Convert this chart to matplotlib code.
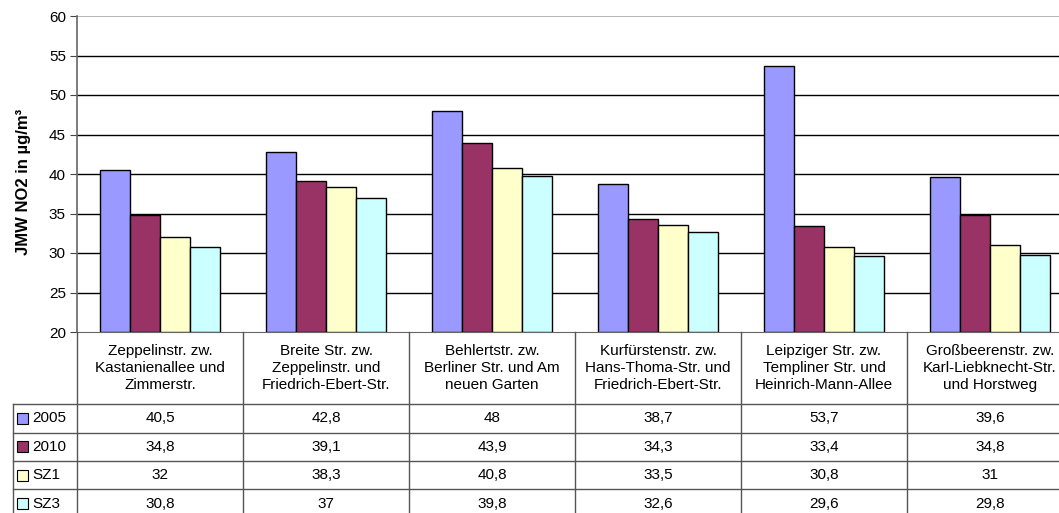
import matplotlib
matplotlib.use("Agg")
import matplotlib.pyplot as plt
import matplotlib.transforms as mtransforms
from matplotlib.lines import Line2D
from matplotlib.patches import Rectangle

plt.rcParams["font.family"] = ["Liberation Sans", "DejaVu Sans"]

categories = [
    "Zeppelinstr. zw.\nKastanienallee und\nZimmerstr.",
    "Breite Str. zw.\nZeppelinstr. und\nFriedrich-Ebert-Str.",
    "Behlertstr. zw.\nBerliner Str. und Am\nneuen Garten",
    "Kurfürstenstr. zw.\nHans-Thoma-Str. und\nFriedrich-Ebert-Str.",
    "Leipziger Str. zw.\nTempliner Str. und\nHeinrich-Mann-Allee",
    "Großbeerenstr. zw.\nKarl-Liebknecht-Str.\nund Horstweg",
]
series_names = ["2005", "2010", "SZ1", "SZ3"]
v2005 = [40.5, 42.8, 48, 38.7, 53.7, 39.6]
v2010 = [34.8, 39.1, 43.9, 34.3, 33.4, 34.8]
vsz1 = [32, 38.3, 40.8, 33.5, 30.8, 31]
vsz3 = [30.8, 37, 39.8, 32.6, 29.6, 29.8]
series = [v2005, v2010, vsz1, vsz3]
colors = ["#9999FF", "#993366", "#FFFFCC", "#CCFFFF"]

W, H = 1059, 513
fig = plt.figure(figsize=(W / 100, H / 100), dpi=100)

# plot area in pixels (right edge runs past the picture like the original)
left, right, top, bottom = 77, 1073, 16, 332
ax = fig.add_axes([left / W, 1 - bottom / H, (right - left) / W, (bottom - top) / H])

n = len(categories)
bw = 30 / 166
for k, vals in enumerate(series):
    xs = [i + (k - 1.5) * bw for i in range(n)]
    ax.bar(xs, [v - 20 for v in vals], bottom=20, width=bw, color=colors[k],
           edgecolor="black", linewidth=1, zorder=3)

ax.set_xlim(-0.5, n - 0.5)
ax.set_ylim(20, 60)
ax.set_yticks(range(20, 61, 5))
ax.tick_params(axis="y", labelsize=11, length=5, color="#444444", pad=3)
ax.set_xticks([])
for y in range(25, 60, 5):
    ax.axhline(y, color="black", linewidth=1, zorder=1)
ax.axhline(60, color="#aaaaaa", linewidth=1.2, zorder=1)
for s in ["top", "right"]:
    ax.spines[s].set_visible(False)
ax.spines["left"].set_color("#666666")
ax.spines["bottom"].set_color("#666666")
ax.spines["left"].set_linewidth(1.2)

fig.text(24 / W, 1 - 182 / H, "JMW NO2 in µg/m³", rotation=90, ha="center",
         va="center", fontsize=12, fontweight="bold")

# data table below the plot
trans = mtransforms.blended_transform_factory(ax.transData, fig.transFigure)


def fy(py):
    return 1 - py / H


line_kw = dict(color="#555555", linewidth=1)
row_lines = [404, 433, 461, 489]
row_h = 28.5
table_left = 13
fs = 11

# vertical lines between categories
for i in range(n + 1):
    x = i - 0.5
    fig.add_artist(Line2D([x, x], [fy(bottom), fy(H + 5)], transform=trans, **line_kw))
# left edge of legend column
fig.add_artist(Line2D([table_left / W, table_left / W], [fy(row_lines[0]), fy(H + 5)],
                      transform=fig.transFigure, **line_kw))
for py in row_lines:
    fig.add_artist(Line2D([table_left / W, 1.0], [fy(py), fy(py)],
                          transform=fig.transFigure, **line_kw))

# header labels
for i, cat in enumerate(categories):
    fig.text(i, fy((bottom + row_lines[0]) / 2), cat, transform=trans, ha="center",
             va="center", fontsize=fs, linespacing=1.3)

# rows
for k, name in enumerate(series_names):
    yc = fy(row_lines[0] + row_h * (k + 0.5))
    fig.add_artist(Rectangle((17 / W, yc - 5.5 / H), 11 / W, 11 / H, transform=fig.transFigure,
                             facecolor=colors[k], edgecolor="black", linewidth=0.8))
    fig.text(32 / W, yc, name, ha="left", va="center", fontsize=fs)
    for i, v in enumerate(series[k]):
        txt = ("%g" % v).replace(".", ",")
        fig.text(i, yc, txt, transform=trans, ha="center", va="center", fontsize=fs)

fig.savefig("out.png", dpi=100)
